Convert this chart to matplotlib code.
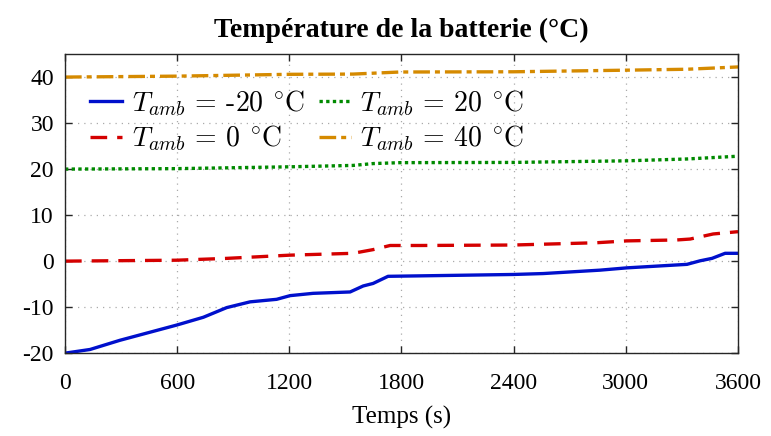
import matplotlib
matplotlib.use("Agg")
import matplotlib.pyplot as plt

plt.rcParams['mathtext.fontset'] = 'cm'
plt.rcParams['font.family'] = ['Liberation Serif', 'DejaVu Serif']

# Data (time in s, temperature in degC)
t_m20 = [0, 134, 294, 597, 740, 865, 990, 1132, 1204, 1327, 1525, 1595, 1648, 1728,
         1900, 2397, 2558, 2862, 3006, 3327, 3397, 3461, 3531, 3600]
T_m20 = [-20.0, -19.2, -17.2, -13.9, -12.2, -10.1, -8.85, -8.3, -7.5, -7.0, -6.7, -5.4,
         -4.85, -3.3, -3.2, -2.9, -2.7, -1.96, -1.46, -0.7, 0.07, 0.6, 1.7, 1.7]

t_0 = [0, 597, 865, 1204, 1541, 1648, 1739, 1900, 2397, 2845, 3005, 3272, 3344, 3467, 3600]
T_0 = [0.0, 0.2, 0.6, 1.3, 1.7, 2.5, 3.4, 3.4, 3.5, 4.0, 4.4, 4.6, 4.8, 5.9, 6.4]

t_20 = [0, 600, 1204, 1541, 1648, 1792, 2397, 3006, 3327, 3600]
T_20 = [20.0, 20.1, 20.5, 20.8, 21.2, 21.4, 21.45, 21.8, 22.2, 22.8]

t_40 = [0, 597, 1204, 1541, 1792, 2397, 3006, 3327, 3600]
T_40 = [40.0, 40.2, 40.6, 40.65, 41.1, 41.15, 41.5, 41.7, 42.2]

labels = [r'$T_{amb}$ = -20 $^{\circ}$C', r'$T_{amb}$ = 0 $^{\circ}$C',
          r'$T_{amb}$ = 20 $^{\circ}$C', r'$T_{amb}$ = 40 $^{\circ}$C']
xticks = [0, 600, 1200, 1800, 2400, 3000, 3600]
yticks = [-20, -10, 0, 10, 20, 30, 40]

fig = plt.figure(figsize=(7.71, 4.36), dpi=100)
ax = fig.add_axes([0.0843, 0.19, 0.8729, 0.686])

ax.plot(t_m20, T_m20, color='#0010CC', lw=2.4, ls='-', label=labels[0])
ax.plot(t_0, T_0, color='#D40000', lw=2.4, ls=(0, (5, 3)), label=labels[1])
ax.plot(t_20, T_20, color='#008A00', lw=2.4, ls=(0, (1, 1)), label=labels[2])
ax.plot(t_40, T_40, color='#D58A00', lw=2.4, ls=(0, (5, 1.5, 1.5, 1.5)), label=labels[3])

ax.set_xlim(0, 3600)
ax.set_ylim(-20, 45)
ax.set_xticks(xticks)
ax.set_yticks(yticks)
ax.set_yticklabels([str(v) for v in yticks])
ax.tick_params(direction='in', top=True, right=True, length=5, width=1,
               labelsize=17, colors='#262626', labelcolor='black')
ax.tick_params(axis='x', pad=14)
ax.tick_params(axis='y', pad=8)
ax.grid(True, ls=(0, (1, 4)), color='#aaaaaa', lw=0.9)
for s in ax.spines.values():
    s.set_color('#262626')
    s.set_linewidth(1)

ax.set_title('Température de la batterie (°C)', fontsize=20, fontweight='bold', pad=12)
ax.set_xlabel('Temps (s)', fontsize=18, labelpad=9)

leg = ax.legend(ncol=2, loc='upper left', frameon=False, prop={'family': 'cmr10', 'size': 20},
                handlelength=1.15, handletextpad=0.35, columnspacing=0.5, labelspacing=0.2,
                bbox_to_anchor=(0.0, 0.97))

fig.savefig('out.png', dpi=100)
